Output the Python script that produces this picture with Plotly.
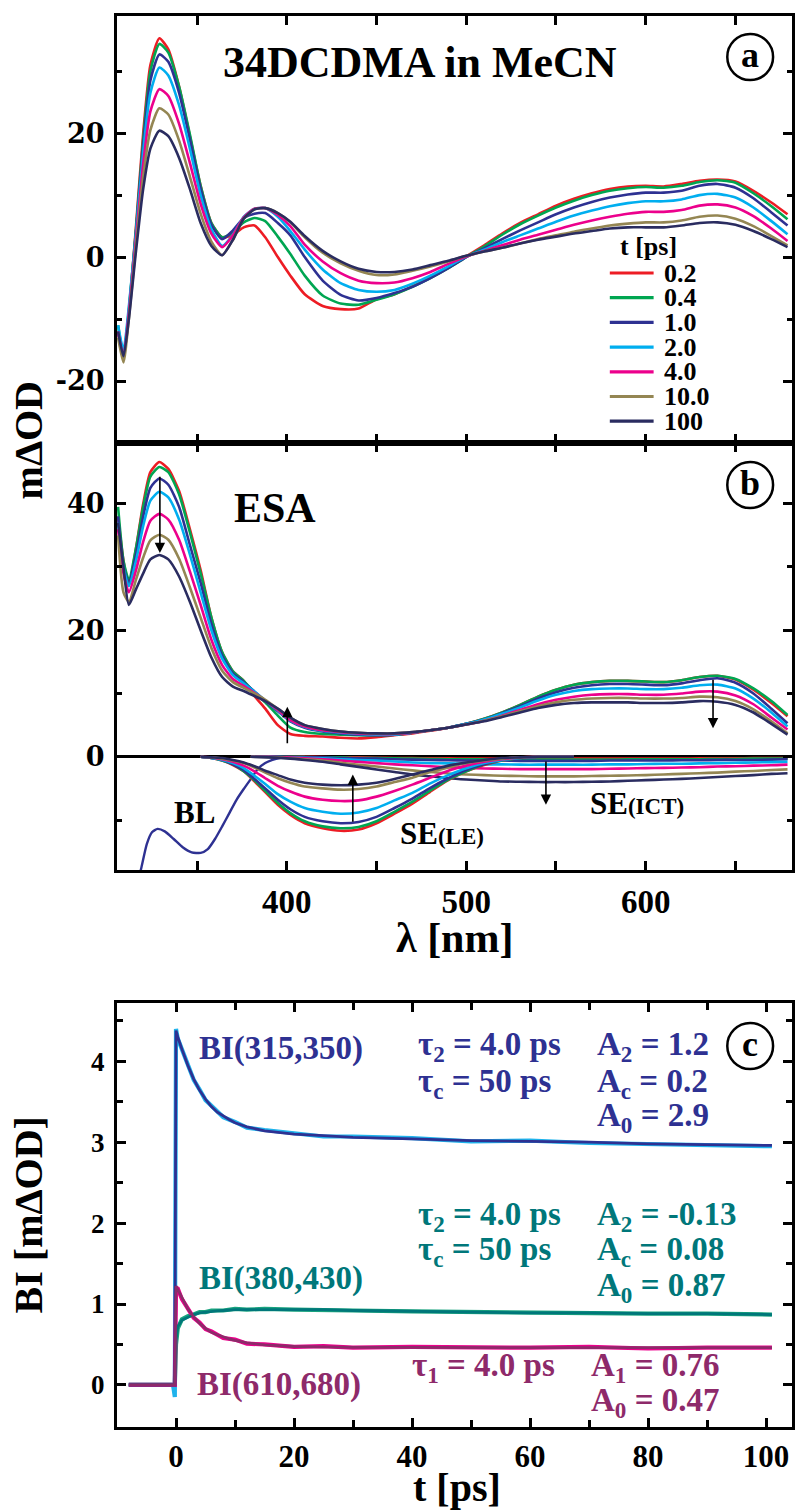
import plotly.graph_objects as go

# ---------------- data ----------------
times = ["0.2", "0.4", "1.0", "2.0", "4.0", "10.0", "100"]
colors = ["#ED1C24", "#00A651", "#2E3192", "#00AEEF", "#EC008C", "#948653", "#2A2C60"]

wl = [306, 309, 312, 316, 320, 324, 329, 334, 340, 346,
      352, 358, 364, 370, 376, 382, 388, 395, 402, 410,
      420, 430, 440, 450, 460, 470, 480, 490, 500, 510,
      520, 530, 540, 550, 560, 570, 580, 590, 600, 610,
      620, 630, 640, 650, 660, 670, 679]

# panel (a) transient spectra
a_02 = [-12, -16.5, -9, 5, 20, 31, 35.3, 33.5, 27.5, 19.5,
        11.5, 5.5, 3.2, 3.6, 4.8, 5.1, 3.2, 0.0, -3.0, -6.0,
        -7.9, -8.4, -8.3, -6.8, -6.0, -4.7, -3.3, -1.7, 0.1, 1.9,
        3.8, 5.5, 6.9, 8.3, 9.4, 10.3, 11.0, 11.4, 11.5, 11.4,
        11.8, 12.3, 12.5, 12.2, 10.7, 8.8, 6.9]
a_04 = [-11, -16, -8.5, 4.5, 19, 30, 34.4, 33, 27.5, 19.8,
        11.5, 5.5, 3.2, 4.0, 5.6, 6.3, 5.8, 3.3, 0.5, -3.0,
        -6.2, -7.5, -7.7, -6.9, -6.0, -4.8, -3.4, -1.8, 0.0, 1.7,
        3.6, 5.3, 6.7, 8.0, 9.1, 10.0, 10.7, 11.1, 11.3, 11.2,
        11.5, 12.1, 12.4, 12.0, 10.3, 8.2, 6.1]
a_1 = [-12, -16, -9, 4, 18, 28.5, 32.7, 31.5, 26.5, 19,
       11, 5.2, 2.9, 4.3, 6.3, 7.0, 7.1, 5.5, 3.5, 0.0,
       -3.8, -6.1, -7.0, -6.6, -5.8, -4.8, -3.4, -1.8, 0.0, 1.4,
       2.9, 4.3, 5.6, 6.9, 8.0, 8.9, 9.6, 10.1, 10.4, 10.4,
       10.7, 11.5, 11.8, 11.2, 9.5, 7.2, 5.1]
a_2 = [-11, -15, -8, 4, 17, 26.5, 30.6, 29.3, 24.5, 17.5,
       10, 4.5, 1.8, 3.6, 6.5, 7.8, 7.9, 6.5, 4.2, 1.2,
       -2.0, -4.2, -5.3, -5.6, -5.3, -4.3, -3.0, -1.5, 0.1, 1.2,
       2.4, 3.5, 4.6, 5.7, 6.7, 7.5, 8.2, 8.7, 9.0, 9.0,
       9.3, 10.0, 10.2, 9.6, 8.0, 5.8, 3.7]
a_4 = [-12, -16, -9, 3, 15, 23.5, 27.1, 26, 21.5, 15.2,
       8.6, 3.8, 1.6, 3.5, 6.4, 7.8, 7.9, 6.8, 5.0, 2.0,
       -0.7, -2.6, -3.8, -4.2, -4.1, -3.4, -2.4, -1.1, 0.1, 1.0,
       1.9, 2.8, 3.6, 4.4, 5.2, 5.9, 6.5, 7.0, 7.3, 7.3,
       7.6, 8.3, 8.5, 8.0, 6.6, 4.6, 2.6]
a_10 = [-13, -17, -10, 2, 13, 20.5, 24.0, 23, 18.8, 13,
        7, 2.5, 0.3, 2.8, 6.2, 7.7, 7.9, 7.1, 5.6, 3.2,
        0.7, -1.0, -2.2, -2.9, -2.8, -2.2, -1.5, -0.7, 0.2, 0.9,
        1.5, 2.2, 2.9, 3.5, 4.1, 4.6, 5.1, 5.4, 5.6, 5.6,
        5.9, 6.5, 6.7, 6.2, 5.0, 3.4, 1.9]
a_100 = [-12, -16, -10, 1, 11, 17.5, 20.4, 19.5, 16, 11,
         5.5, 1.8, 0.3, 2.8, 6.2, 7.7, 7.9, 7.1, 5.7, 3.4,
         1.0, -0.7, -1.9, -2.4, -2.4, -2.0, -1.3, -0.6, 0.2, 0.9,
         1.5, 2.2, 2.8, 3.3, 3.8, 4.2, 4.6, 4.8, 4.8, 4.8,
         5.1, 5.5, 5.6, 5.2, 4.2, 2.9, 1.6]

# panel (b) ESA
b_02 = [38, 31, 27, 33, 40, 45, 46.6, 45.5, 42, 36,
        29.5, 22, 16.5, 13.5, 12, 9.6, 7.6, 5.0, 3.6, 3.3,
        3.2, 3.0, 2.9, 3.1, 3.4, 3.7, 4.1, 4.6, 5.2, 6.0,
        7.0, 8.2, 9.5, 10.6, 11.4, 11.8, 12.0, 12.0, 11.9, 11.8,
        12.1, 12.6, 12.8, 12.2, 10.6, 8.5, 6.4]
b_04 = [39.5, 31, 28, 33, 39.5, 44.3, 45.8, 45, 41.5, 35.5,
        29, 22, 16.5, 13.5, 12, 10.2, 8.6, 6.5, 4.6, 3.9,
        3.6, 3.5, 3.4, 3.4, 3.5, 3.8, 4.2, 4.6, 5.2, 6.0,
        7.0, 8.2, 9.5, 10.6, 11.4, 11.8, 12.0, 12.0, 11.9, 11.8,
        12.1, 12.6, 12.8, 12.3, 10.8, 8.8, 6.6]
b_1 = [38, 30, 27.5, 32, 38, 42.5, 44.0, 43, 39.5, 33.5,
       27.5, 21, 16, 13.2, 11.8, 10.3, 8.8, 7.2, 5.6, 4.6,
       4.0, 3.7, 3.5, 3.4, 3.5, 3.8, 4.2, 4.6, 5.2, 5.9,
       6.9, 8.0, 9.2, 10.2, 10.9, 11.3, 11.5, 11.5, 11.4, 11.3,
       11.6, 12.1, 12.4, 11.7, 10.0, 7.6, 5.3]
b_2 = [37, 30, 27, 31, 36.5, 40.5, 41.9, 41, 37.5, 32,
       26, 20, 15.5, 12.9, 11.6, 10.3, 8.9, 7.3, 5.7, 4.7,
       4.1, 3.8, 3.6, 3.5, 3.5, 3.8, 4.2, 4.6, 5.2, 5.9,
       6.8, 7.8, 8.9, 9.8, 10.4, 10.7, 10.8, 10.8, 10.7, 10.7,
       10.9, 11.3, 11.4, 10.8, 9.2, 7.0, 4.8]
b_4 = [36, 29, 26, 29.5, 34, 37.3, 38.4, 37.5, 34.3, 29.3,
       24, 18.5, 14.5, 12.3, 11.2, 10.1, 8.9, 7.4, 5.8, 4.8,
       4.2, 3.9, 3.7, 3.6, 3.6, 3.8, 4.2, 4.6, 5.1, 5.7,
       6.5, 7.4, 8.3, 9.0, 9.5, 9.8, 9.9, 9.9, 9.8, 9.8,
       10.0, 10.3, 10.3, 9.7, 8.3, 6.2, 4.3]
b_10 = [35, 26, 24.5, 28, 31.5, 34.2, 35.1, 34.3, 31.3, 26.8,
        22, 17.2, 13.6, 11.8, 10.9, 10.0, 9.0, 7.6, 6.2, 5.0,
        4.4, 4.0, 3.8, 3.7, 3.7, 3.9, 4.2, 4.6, 5.1, 5.7,
        6.4, 7.2, 8.0, 8.6, 9.0, 9.2, 9.3, 9.3, 9.2, 9.2,
        9.3, 9.5, 9.4, 8.8, 7.5, 5.6, 3.7]
b_100 = [37, 30, 24, 26.5, 29, 31.2, 31.9, 31.2, 28.5, 24.5,
         20, 15.7, 12.6, 11.1, 10.4, 9.6, 8.8, 7.6, 6.2, 5.0,
         4.4, 4.0, 3.8, 3.7, 3.7, 3.9, 4.2, 4.6, 5.1, 5.6,
         6.3, 7.0, 7.7, 8.2, 8.5, 8.6, 8.6, 8.6, 8.5, 8.5,
         8.6, 8.8, 8.7, 8.2, 7.0, 5.2, 3.5]

# panel (b) stimulated emission, LE band
le_wl = [352, 358, 364, 370, 376, 382, 388, 395, 402, 410, 420, 430,
         440, 450, 460, 470, 480, 490, 500, 510, 520, 530, 540, 560]
le_02 = [0, -0.2, -0.6, -1.3, -2.3, -3.9, -5.6, -7.6, -9.2, -10.5, -11.3, -11.7,
         -11.5, -10.5, -9.0, -7.4, -5.5, -3.7, -2.3, -1.3, -0.6, -0.2, 0, 0]
le_04 = [0, -0.2, -0.6, -1.2, -2.3, -3.7, -5.4, -7.3, -8.9, -10.2, -11.0, -11.3,
         -11.1, -10.2, -8.7, -7.1, -5.3, -3.6, -2.3, -1.2, -0.6, -0.2, 0, 0]
le_1 = [0, -0.2, -0.5, -1.2, -2.1, -3.5, -5.0, -6.8, -8.3, -9.5, -10.2, -10.5,
        -10.3, -9.5, -8.1, -6.6, -4.9, -3.4, -2.1, -1.2, -0.5, -0.2, 0, 0]
le_2 = [0, -0.2, -0.5, -1.0, -1.8, -3.0, -4.3, -5.9, -7.1, -8.1, -8.7, -9.0,
        -8.8, -8.1, -6.9, -5.7, -4.2, -2.9, -1.8, -1.0, -0.5, -0.2, 0, 0]
le_4 = [0, -0.1, -0.4, -0.8, -1.4, -2.3, -3.4, -4.6, -5.5, -6.3, -6.8, -7.0,
        -6.9, -6.3, -5.4, -4.4, -3.3, -2.2, -1.4, -0.8, -0.4, -0.1, 0, 0]
le_10 = [0, -0.1, -0.3, -0.6, -1.0, -1.7, -2.5, -3.4, -4.1, -4.7, -5.0, -5.2,
         -5.1, -4.7, -4.0, -3.3, -2.4, -1.7, -1.0, -0.6, -0.3, -0.1, 0, 0]
le_100 = [0, -0.1, -0.2, -0.5, -0.9, -1.5, -2.2, -2.9, -3.6, -4.1, -4.4, -4.5,
          -4.4, -4.1, -3.5, -2.8, -2.1, -1.4, -0.9, -0.5, -0.2, -0.1, 0, 0]

# panel (b) stimulated emission, ICT band
ict_wl = [380, 390, 400, 410, 420, 430, 440, 450, 460, 470, 480, 490, 500, 510, 520, 530,
          540, 550, 560, 570, 580, 590, 600, 610, 620, 630, 640, 650, 660, 670, 679]
ict_02 = [0, 0, 0, 0, -0.05, -0.1, -0.1, -0.15, -0.2, -0.2, -0.25, -0.25, -0.3, -0.3, -0.3, -0.3,
          -0.3, -0.3, -0.3, -0.3, -0.3, -0.3, -0.3, -0.3, -0.3, -0.25, -0.25, -0.25, -0.2, -0.2, -0.2]
ict_04 = [0, 0, 0, -0.05, -0.1, -0.1, -0.2, -0.2, -0.25, -0.3, -0.35, -0.4, -0.4, -0.4, -0.45, -0.45,
          -0.45, -0.45, -0.45, -0.45, -0.45, -0.4, -0.4, -0.4, -0.4, -0.4, -0.35, -0.35, -0.3, -0.3, -0.3]
ict_1 = [0, 0, 0, -0.1, -0.1, -0.2, -0.25, -0.3, -0.4, -0.45, -0.5, -0.55, -0.6, -0.6, -0.6, -0.65,
         -0.65, -0.65, -0.65, -0.65, -0.6, -0.6, -0.6, -0.6, -0.55, -0.55, -0.5, -0.5, -0.5, -0.45, -0.4]
ict_2 = [0, 0, -0.1, -0.15, -0.25, -0.4, -0.5, -0.6, -0.75, -0.9, -1.0, -1.05, -1.1, -1.2, -1.2, -1.25,
         -1.25, -1.25, -1.25, -1.25, -1.2, -1.2, -1.15, -1.1, -1.1, -1.05, -1.0, -0.95, -0.9, -0.85, -0.8]
ict_4 = [0, 0, -0.1, -0.25, -0.4, -0.6, -0.8, -1.0, -1.2, -1.35, -1.5, -1.65, -1.75, -1.85, -1.9, -1.95,
         -1.95, -1.95, -1.95, -1.95, -1.9, -1.85, -1.8, -1.75, -1.7, -1.65, -1.55, -1.5, -1.4, -1.35, -1.25]
ict_10 = [0, -0.05, -0.2, -0.4, -0.6, -0.95, -1.25, -1.55, -1.85, -2.15, -2.4, -2.65, -2.8, -2.9, -3.0, -3.05,
          -3.1, -3.1, -3.1, -3.05, -3.0, -2.95, -2.9, -2.8, -2.7, -2.6, -2.5, -2.35, -2.25, -2.1, -2.0]
ict_100 = [0, -0.1, -0.25, -0.5, -0.8, -1.2, -1.6, -2.0, -2.4, -2.8, -3.1, -3.4, -3.6, -3.75, -3.9, -3.95,
           -4.0, -4.0, -4.0, -3.95, -3.9, -3.8, -3.7, -3.6, -3.5, -3.35, -3.2, -3.05, -2.9, -2.7, -2.6]

# panel (b) bleach
bl_wl = [315, 319, 322, 325, 328, 332, 337, 342, 347, 352, 356, 360,
         364, 368, 372, 376, 380, 384, 388, 392, 396, 400, 410]
bl = [-22, -17.5, -13.8, -11.9, -11.4, -11.8, -13.0, -14.3, -15.1, -15.2, -14.6, -13.0,
      -11.0, -8.9, -6.8, -5.1, -3.5, -1.9, -1.0, -0.5, -0.2, -0.1, 0]

# panel (c) band integrals
t_fit = [-8, -0.2, 0, 0.3, 1, 2, 3, 4, 5, 6, 7, 8, 9, 10, 12, 15, 20, 25, 30, 40, 50, 60, 70, 80, 90, 101]
bi1_fit = [0, 0, 4.38, 4.30, 4.15, 3.95, 3.78, 3.64, 3.53, 3.44, 3.37, 3.32, 3.28, 3.24, 3.19, 3.14, 3.10, 3.08,
           3.06, 3.04, 3.02, 3.01, 3.00, 2.98, 2.97, 2.96]
bi2_fit = [0, 0, 0.55, 0.72, 0.80, 0.84, 0.87, 0.89, 0.90, 0.91, 0.915, 0.92, 0.925, 0.93, 0.93, 0.93, 0.93, 0.93,
           0.92, 0.91, 0.90, 0.89, 0.89, 0.88, 0.88, 0.87]
bi3_fit = [0, 0, 1.22, 1.18, 1.07, 0.94, 0.84, 0.76, 0.70, 0.65, 0.62, 0.59, 0.57, 0.55, 0.52, 0.495, 0.475, 0.47,
           0.465, 0.465, 0.46, 0.46, 0.46, 0.46, 0.46, 0.46]
t_dat = [-8, -0.5, -0.2, 0, 0.3, 1, 2, 3, 4, 5, 6, 8, 10, 12, 15, 20, 25, 30, 40, 50, 60, 70, 80, 90, 101]
bi1_dat = [0, 0, -0.15, 4.40, 4.28, 4.14, 3.96, 3.77, 3.65, 3.52, 3.45, 3.31, 3.25, 3.18, 3.15, 3.11,
           3.07, 3.07, 3.05, 3.01, 3.02, 2.99, 2.98, 2.96, 2.95]
bi2_dat = [0, 0, 0, 0.5, 0.7, 0.81, 0.85, 0.87, 0.90, 0.90, 0.92, 0.92, 0.94, 0.93, 0.94, 0.93,
           0.93, 0.92, 0.91, 0.90, 0.89, 0.89, 0.88, 0.88, 0.87]
bi3_dat = [0, 0, 0, 1.2, 1.19, 1.06, 0.95, 0.83, 0.77, 0.69, 0.66, 0.58, 0.56, 0.51, 0.50, 0.47,
           0.48, 0.46, 0.47, 0.46, 0.46, 0.47, 0.45, 0.46, 0.46]

# ---------------- figure ----------------
W, H = 797, 1511
ML, MR, MT, MB = 117, 2, 16, 84
PW, PH = W - ML - MR, H - MT - MB


def px(x):
    return (x - ML) / PW


def py(y):
    return (H - MB - y) / PH


SERIF = "Liberation Serif"
fig = go.Figure()

panel_a = [a_02, a_04, a_1, a_2, a_4, a_10, a_100]
panel_b = [b_02, b_04, b_1, b_2, b_4, b_10, b_100]
panel_le = [le_02, le_04, le_1, le_2, le_4, le_10, le_100]
panel_ict = [ict_02, ict_04, ict_1, ict_2, ict_4, ict_10, ict_100]
spl = dict(width=2.6, shape="spline", smoothing=0.6)

for name, col, ya in zip(times, colors, panel_a):
    fig.add_trace(go.Scatter(x=wl, y=ya, mode="lines", name=name, line=dict(spl, color=col),
                             xaxis="x", yaxis="y", showlegend=False))

fig.add_trace(go.Scatter(x=bl_wl, y=bl, mode="lines", name="BL", line=dict(spl, color="#2E3192", width=2.4),
                         xaxis="x2", yaxis="y2", showlegend=False))
for name, col, yi in zip(times, colors, panel_ict):
    fig.add_trace(go.Scatter(x=ict_wl, y=yi, mode="lines", name=name, line=dict(spl, color=col),
                             xaxis="x2", yaxis="y2", showlegend=False))
for name, col, yl in zip(times, colors, panel_le):
    fig.add_trace(go.Scatter(x=le_wl, y=yl, mode="lines", name=name, line=dict(spl, color=col),
                             xaxis="x2", yaxis="y2", showlegend=False))
for name, col, yb in zip(times, colors, panel_b):
    fig.add_trace(go.Scatter(x=wl, y=yb, mode="lines", name=name, line=dict(spl, color=col),
                             xaxis="x2", yaxis="y2", showlegend=False))

# panel c
c_specs = [
    (bi1_dat, "#1FB3EC", bi1_fit, "#2E3192"),
    (bi2_dat, "#19A37E", bi2_fit, "#00777A"),
    (bi3_dat, "#EC008C", bi3_fit, "#8E2A6A"),
]
for dat, dcol, fit, fcol in c_specs:
    fig.add_trace(go.Scatter(x=t_dat, y=dat, mode="lines", line=dict(color=dcol, width=4.2),
                             xaxis="x3", yaxis="y3", showlegend=False))
for dat, dcol, fit, fcol in c_specs:
    fig.add_trace(go.Scatter(x=t_fit, y=fit, mode="lines", line=dict(color=fcol, width=2.8),
                             xaxis="x3", yaxis="y3", showlegend=False))

axis_common = dict(showline=True, linewidth=3, linecolor="black", mirror="allticks",
                   ticks="inside", tickwidth=2.5, tickcolor="black", ticklen=9,
                   showgrid=False, zeroline=False)
ytick_font = dict(family="DejaVu Serif", size=27, color="black", weight="bold")
xtick_font = dict(family=SERIF, size=33, color="black", weight="bold")
lam_minor = dict(tickvals=[350, 450, 550, 650], ticklen=9, tickwidth=2.5, ticks="inside", tickcolor="black")

fig.update_layout(
    width=W, height=H, margin=dict(l=ML, r=MR, t=MT, b=MB),
    paper_bgcolor="white", plot_bgcolor="white", showlegend=False,
    xaxis=dict(axis_common, domain=[0, 1], anchor="y", range=[305.4, 681.5],
               tickvals=[400, 500, 600], showticklabels=False, minor=lam_minor),
    yaxis=dict(axis_common, domain=[py(443), 1], anchor="x", range=[-30, 38.9],
               tickvals=[-20, 0, 20], ticktext=["-20", "0", "20"], tickfont=ytick_font,
               ticklabelstandoff=4,
               minor=dict(tickvals=[-10, 10, 30], ticklen=5, tickwidth=2.5, ticks="inside", tickcolor="black")),
    xaxis2=dict(axis_common, domain=[0, 1], anchor="y2", range=[305.4, 681.5],
                tickvals=[400, 500, 600], tickfont=xtick_font, minor=lam_minor),
    yaxis2=dict(axis_common, domain=[py(870), py(443)], anchor="x2", range=[-17.9, 49.6],
                tickvals=[0, 20, 40], tickfont=ytick_font,
                ticklabelstandoff=4,
                zeroline=True, zerolinewidth=3, zerolinecolor="black",
                minor=dict(tickvals=[-10, 10, 30], ticklen=5, tickwidth=2.5, ticks="inside", tickcolor="black")),
    xaxis3=dict(axis_common, domain=[0, 1], anchor="y3", range=[-10, 104.4],
                tickvals=[0, 20, 40, 60, 80, 100], tickfont=dict(family=SERIF, size=31, color="black", weight="bold"),
                minor=dict(tickvals=[10, 30, 50, 70, 90], ticklen=7, tickwidth=2.5, ticks="inside", tickcolor="black")),
    yaxis3=dict(axis_common, domain=[0, py(1003)], anchor="x3", range=[-0.52, 4.72],
                tickvals=[0, 1, 2, 3, 4], tickfont=dict(family=SERIF, size=27, color="black", weight="bold"),
                ticklabelstandoff=4,
                minor=dict(tickvals=[0.5, 1.5, 2.5, 3.5, 4.5], ticklen=6, tickwidth=2.5, ticks="inside", tickcolor="black")),
)

ann = []
shapes = []


def text(x, y, s, size, color="black", xanchor="center", family=SERIF, xref="paper", yref="paper", angle=0):
    ann.append(dict(x=x, y=y, xref=xref, yref=yref, text=s, showarrow=False, xanchor=xanchor, yanchor="middle",
                    textangle=angle, font=dict(family=family, size=size, color=color, weight="bold")))


# titles
text(px(421), py(62), "34DCDMA in MeCN", 44)
text(px(276), py(508), "ESA", 42)
text(px(28), py(440), "mΔOD", 40, angle=-90)
text(px(456), py(938), "λ [nm]", 42)
text(px(459), py(1488), "t [ps]", 40)
text(px(28), py(1215), "BI [mΔOD]", 40, angle=-90)

# circled panel letters
for cy, letter in [(57, "a"), (485, "b"), (1046, "c")]:
    shapes.append(dict(type="circle", xref="paper", yref="paper", x0=px(753 - 23), x1=px(753 + 23),
                       y0=py(cy + 23), y1=py(cy - 23), line=dict(color="black", width=2.5)))
    text(px(753), py(cy - 2), letter, 36)

# legend (panel a)
text(px(651), py(246), "t [ps]", 26)
for i, (name, col) in enumerate(zip(times, colors)):
    yy = 273 + i * 24.7
    shapes.append(dict(type="line", xref="paper", yref="paper", x0=px(612), x1=px(656), y0=py(yy), y1=py(yy),
                       line=dict(color=col, width=3.2)))
    text(px(664), py(yy), name, 26, xanchor="left")

# panel b labels
text(px(195), py(812), "BL", 31)
text(px(399), py(834), "SE<span style='font-size:23px'>(LE)</span>", 31, xanchor="left")
text(px(590), py(803), "SE<span style='font-size:23px'>(ICT)</span>", 31, xanchor="left")

# arrows in panel b
for xa, y_tail, y_head in [(329.3, 44.5, 32.2), (400.3, 1.9, 7.9), (637.5, 12.4, 4.5),
                           (436.8, -10.5, -2.8), (544.4, -0.5, -7.6)]:
    ann.append(dict(x=xa, y=y_head, ax=xa, ay=y_tail, xref="x2", yref="y2", axref="x2", ayref="y2",
                    text="", showarrow=True, arrowhead=2, arrowsize=1.3, arrowwidth=1.6, arrowcolor="black",
                    standoff=0, startstandoff=0))

# panel c annotations
NAVY, TEAL, MAROON = "#2E3192", "#00777A", "#8E2A6A"
FS = 33
text(3.5, 4.16, "BI(315,350)", FS, NAVY, "left", xref="x3", yref="y3")
text(40.6, 4.18, "τ<sub>2</sub> = 4.0 ps", FS, NAVY, "left", xref="x3", yref="y3")
text(40.6, 3.73, "τ<sub>c</sub> = 50 ps", FS, NAVY, "left", xref="x3", yref="y3")
text(71, 4.18, "A<sub>2</sub> = 1.2", FS, NAVY, "left", xref="x3", yref="y3")
text(71, 3.73, "A<sub>c</sub> = 0.2", FS, NAVY, "left", xref="x3", yref="y3")
text(71, 3.30, "A<sub>0</sub> = 2.9", FS, NAVY, "left", xref="x3", yref="y3")

text(3.5, 1.32, "BI(380,430)", FS, TEAL, "left", xref="x3", yref="y3")
text(40.6, 2.08, "τ<sub>2</sub> = 4.0 ps", FS, TEAL, "left", xref="x3", yref="y3")
text(40.6, 1.65, "τ<sub>c</sub> = 50 ps", FS, TEAL, "left", xref="x3", yref="y3")
text(71, 2.08, "A<sub>2</sub> = -0.13", FS, TEAL, "left", xref="x3", yref="y3")
text(71, 1.65, "A<sub>c</sub> = 0.08", FS, TEAL, "left", xref="x3", yref="y3")
text(71, 1.20, "A<sub>0</sub> = 0.87", FS, TEAL, "left", xref="x3", yref="y3")

text(3.3, 0.0, "BI(610,680)", FS, MAROON, "left", xref="x3", yref="y3")
text(39.6, 0.22, "τ<sub>1</sub> = 4.0 ps", FS, MAROON, "left", xref="x3", yref="y3")
text(70, 0.22, "A<sub>1</sub> = 0.76", FS, MAROON, "left", xref="x3", yref="y3")
text(70, -0.22, "A<sub>0</sub> = 0.47", FS, MAROON, "left", xref="x3", yref="y3")

fig.update_layout(annotations=ann, shapes=shapes)
fig.write_html("out.html")
